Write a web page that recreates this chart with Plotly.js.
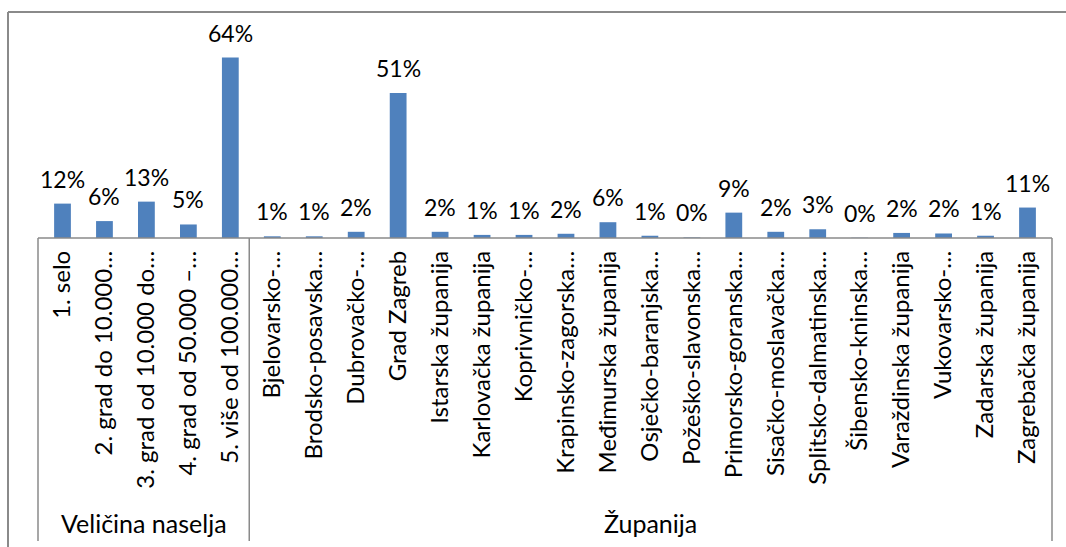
<!DOCTYPE html>
<html>
<head>
<meta charset="utf-8">
<script src="https://cdn.plot.ly/plotly-3.0.1.min.js"></script>
<style>html,body{margin:0;padding:0;background:#fff;}#chart{width:1066px;height:547px;}</style>
</head>
<body>
<div id="chart"></div>
<script>
const groups = ["Veličina naselja", "Županija"];
const groupSizes = [5, 19];
const categories = [
  "1. selo", "2. grad do 10.000…", "3. grad od 10.000 do…", "4. grad od 50.000 –…", "5. više od 100.000…",
  "Bjelovarsko-…", "Brodsko-posavska…", "Dubrovačko-…", "Grad Zagreb", "Istarska županija",
  "Karlovačka županija", "Koprivničko-…", "Krapinsko-zagorska…", "Međimurska županija", "Osječko-baranjska…",
  "Požeško-slavonska…", "Primorsko-goranska…", "Sisačko-moslavačka…", "Splitsko-dalmatinska…", "Šibensko-kninska…",
  "Varaždinska županija", "Vukovarsko-…", "Zadarska županija", "Zagrebačka županija"
];
const values = [
  0.122, 0.060, 0.129, 0.048, 0.640,
  0.006, 0.006, 0.022, 0.514, 0.022,
  0.011, 0.011, 0.015, 0.056, 0.008,
  0.002, 0.090, 0.022, 0.031, 0.001,
  0.018, 0.016, 0.008, 0.108
];

const FONT = "Lato, 'Liberation Sans', sans-serif";
const LINE = "#8a8a8a";
const W = 1066, H = 547;
const L = 38, R = 14, T = 20, B = 309;
const plotW = W - L - R, plotH = H - T - B;
const px2x = p => (p - L) / plotW;
const py2y = p => (H - B - p) / plotH;

const shapes = [];
shapes.push({type: "line", xref: "paper", yref: "paper", x0: px2x(8), x1: px2x(8), y0: py2y(12), y1: py2y(547), line: {color: LINE, width: 2}});
shapes.push({type: "line", xref: "paper", yref: "paper", x0: px2x(8), x1: px2x(1066), y0: py2y(12), y1: py2y(12), line: {color: LINE, width: 2}});
shapes.push({type: "line", xref: "paper", yref: "paper", x0: 0, x1: 1, y0: 0, y1: 0, line: {color: LINE, width: 1.5}});
const n = categories.length;
let acc = 0;
const bounds = [0];
groupSizes.forEach(s => { acc += s; bounds.push(acc); });
bounds.forEach(b => {
  shapes.push({type: "line", xref: "paper", yref: "paper", x0: b / n, x1: b / n, y0: 0, y1: py2y(541), line: {color: LINE, width: 1.5}});
});

const annotations = [];
groups.forEach((g, i) => {
  annotations.push({
    xref: "paper", yref: "paper", x: (bounds[i] + bounds[i + 1]) / 2 / n, y: py2y(523),
    text: g, showarrow: false, xanchor: "center", yanchor: "middle",
    font: {family: FONT, size: 25, color: "#000"}
  });
});
categories.forEach((c, i) => {
  annotations.push({
    x: c, y: values[i], xref: "x", yref: "y",
    text: Math.round(values[i] * 100) + "%", showarrow: false,
    yanchor: "bottom", yshift: 9,
    font: {family: FONT, size: 23, color: "#000"}
  });
});

const data = [{
  type: "bar", x: categories, y: values,
  marker: {color: "#4F81BD"},
  hoverinfo: "skip"
}];

const layout = {
  width: W, height: H,
  margin: {l: L, r: R, t: T, b: B, pad: 0},
  paper_bgcolor: "#fff", plot_bgcolor: "#fff",
  showlegend: false,
  bargap: 0.6,
  font: {family: FONT, color: "#000"},
  xaxis: {
    type: "category", tickangle: -90, showline: false, showgrid: false, zeroline: false,
    ticks: "", tickfont: {family: FONT, size: 24, color: "#000"}, ticklabelstandoff: 7,
    automargin: false
  },
  yaxis: {range: [0, plotH / 281.9], visible: false, showgrid: false, zeroline: false, automargin: false},
  shapes: shapes,
  annotations: annotations
};

Plotly.newPlot("chart", data, layout, {staticPlot: true, displayModeBar: false});
</script>
</body>
</html>
